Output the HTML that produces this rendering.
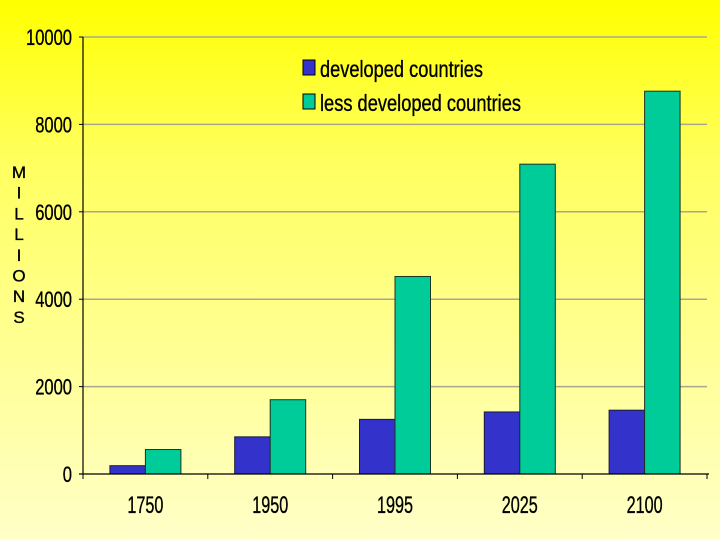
<!DOCTYPE html>
<html><head><meta charset="utf-8"><style>
html,body{margin:0;padding:0;}
body{width:720px;height:540px;overflow:hidden;background:linear-gradient(#ffff00 0%,#ffff60 30%,#ffffc8 100%);font-family:"Liberation Sans",sans-serif;}
svg{display:block}
text{stroke:#000;stroke-width:0.35px;}
</style></head><body>
<svg id="chart" width="720" height="540" xmlns="http://www.w3.org/2000/svg">
<g id="ylabel" font-size="17" fill="#000" text-anchor="middle"></g>
<g id="grid"></g>
<g id="bars"></g>
<g id="axes"></g>
<g id="legend">
 <rect x="303" y="60" width="12" height="15" fill="#3333cc" stroke="#000" stroke-width="1"/>
 <text x="320" y="77" font-size="23" textLength="163" lengthAdjust="spacingAndGlyphs">developed countries</text>
 <rect x="303" y="94" width="12" height="15" fill="#00cc99" stroke="#000" stroke-width="1"/>
 <text x="320" y="111" font-size="23" textLength="201" lengthAdjust="spacingAndGlyphs">less developed countries</text>
</g>
</svg>
<script>
const categories = ["1750","1950","1995","2025","2100"];
const developed = [190, 850, 1250, 1420, 1460];
const lessDeveloped = [560, 1700, 4520, 7090, 8760];
const yTicks = [0, 2000, 4000, 6000, 8000, 10000];
const yLetters = ["M","I","L","L","I","O","N","S"];

const NS = "http://www.w3.org/2000/svg";
const X0 = 83, X1 = 707, Y0 = 474, Y1 = 37, YMAX = 10000;
const catW = (X1 - X0) / categories.length;
const barW = 35.5;
function y(v){ return Y0 - (v / YMAX) * (Y0 - Y1); }
function mk(tag, attrs, parent){ const e = document.createElementNS(NS, tag); for (const k in attrs) e.setAttribute(k, attrs[k]); parent.appendChild(e); return e; }

const grid = document.getElementById('grid');
const axes = document.getElementById('axes');
const bars = document.getElementById('bars');
const ylab = document.getElementById('ylabel');

yLetters.forEach((L, i) => {
  const t = mk('text', {x: 19, y: 178 + i * 20.7}, ylab);
  
  
  t.textContent = L;
});

yTicks.forEach(v => {
  if (v > 0) {
    const g = mk('line', {x1: X0, x2: X1, y1: y(v), y2: y(v), stroke: '#a8a890', 'stroke-width': 1.5}, grid);
    
    
  }
  const tk = mk('line', {x1: X0 - 4, x2: X0, y1: y(v), y2: y(v), stroke: '#000'}, axes);
  
  
  const t = mk('text', {x: 72, y: y(v) + 8, 'text-anchor': 'end', 'font-size': 22, textLength: String(v).length * 9.2, lengthAdjust: 'spacingAndGlyphs'}, axes);
  
  
  t.textContent = v;
});

categories.forEach((c, i) => {
  const cx = X0 + catW * i + catW / 2;
  const b1 = mk('rect', {x: cx - barW, y: y(developed[i]), width: barW, height: Y0 - y(developed[i]), fill: '#3333cc', stroke: '#1a1a33', 'stroke-width': 1}, bars);
  
  
  const b2 = mk('rect', {x: cx, y: y(lessDeveloped[i]), width: barW, height: Y0 - y(lessDeveloped[i]), fill: '#00cc99', stroke: '#1a3322', 'stroke-width': 1}, bars);
  
  
  const t = mk('text', {x: cx, y: 513, 'text-anchor': 'middle', 'font-size': 24, textLength: 36, lengthAdjust: 'spacingAndGlyphs'}, axes);
  
  
  t.textContent = c;
});
for (let i = 0; i <= categories.length; i++) {
  const tk = mk('line', {x1: X0 + catW * i, x2: X0 + catW * i, y1: Y0, y2: Y0 + 5, stroke: '#000'}, axes);
  
  
}
const ya = mk('line', {x1: X0, x2: X0, y1: Y1, y2: Y0, stroke: '#000', 'stroke-width': 1.2}, axes);


const xa = mk('line', {x1: X0 - 4, x2: X1 + 2, y1: Y0, y2: Y0, stroke: '#000', 'stroke-width': 1.2}, axes);


</script>
</body></html>
